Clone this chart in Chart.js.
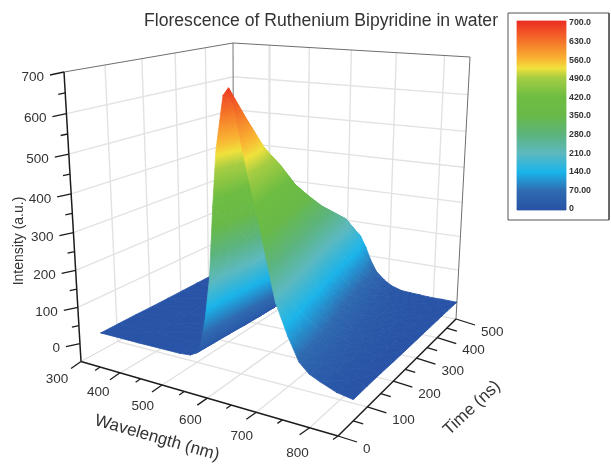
<!DOCTYPE html>
<html>
<head>
<meta charset="utf-8">
<title>Florescence of Ruthenium Bipyridine in water</title>
<script src="https://cdn.jsdelivr.net/npm/chart.js@4/dist/chart.umd.min.js"></script>
<style>
  html, body { margin: 0; padding: 0; background: #fff; }
  canvas { display: block; }
</style>
</head>
<body>
<canvas id="chart" width="611" height="464"></canvas>
<script>
// values
const wavelengths = [305, 400, 500, 525, 540, 550, 562, 573, 584, 594, 611, 622, 633, 645, 657, 671, 690, 707, 730, 751, 770, 790, 820, 850];
const times = [50, 100, 150, 200, 250, 300, 350, 400, 450, 500];
const intensityT50  = [4, 4, 5, 8, 18, 45, 120, 220, 400, 540, 668, 686, 640, 561, 490, 415, 300, 197, 120, 62, 38, 26, 10, 3];
const intensityT100 = [4, 4, 5, 7, 16, 40, 106, 194, 340, 465, 580, 600, 565, 495, 425, 352, 255, 168, 98, 50, 32, 22, 9, 4];
const intensityT150 = [4, 4, 5, 7, 14, 34, 87, 159, 280, 390, 495, 520, 485, 420, 358, 292, 209, 135, 80, 42, 27, 19, 8, 4];
const intensityT200 = [3, 4, 4, 6, 11, 29, 73, 133, 241, 335, 435, 462, 430, 370, 314, 248, 170, 109, 63, 34, 24, 16, 7, 3];
const intensityT250 = [3, 3, 4, 5, 9, 23, 58, 106, 191, 276, 367, 396, 367, 310, 256, 197, 130, 83, 47, 27, 20, 14, 6, 3];
const intensityT300 = [3, 3, 4, 5, 8, 20, 48, 88, 159, 234, 318, 347, 321, 269, 218, 164, 104, 65, 37, 21, 16, 11, 5, 3];
const intensityT350 = [3, 3, 3, 4, 7, 17, 40, 72, 131, 196, 273, 302, 279, 232, 185, 135, 82, 51, 28, 17, 14, 10, 5, 3];
const intensityT400 = [3, 3, 3, 4, 6, 14, 33, 60, 108, 166, 237, 265, 244, 201, 158, 112, 65, 39, 21, 13, 11, 8, 5, 3];
const intensityT450 = [2, 3, 3, 3, 5, 12, 27, 49, 88, 137, 201, 228, 210, 171, 132, 90, 50, 29, 15, 10, 8, 6, 4, 3];
const intensityT500 = [2, 2, 3, 3, 3, 8, 18, 34, 60, 97, 146, 168, 155, 125, 88, 55, 32, 18, 8, 6, 5, 3, 3, 2];
const intensityRows = [intensityT50, intensityT100, intensityT150, intensityT200, intensityT250,
                       intensityT300, intensityT350, intensityT400, intensityT450, intensityT500];

const wavelengthTicks = [300, 400, 500, 600, 700, 800];
const wavelengthMinor = [350, 450, 550, 650, 750, 850];
const timeTicks = [0, 100, 200, 300, 400, 500];
const timeMinor = [50, 150, 250, 350, 450];
const intensityTicks = [0, 100, 200, 300, 400, 500, 600, 700];
const intensityMinor = [50, 150, 250, 350, 450, 550, 650];
const legendLabels = ['700.0', '630.0', '560.0', '490.0', '420.0', '350.0', '280.0', '210.0', '140.0', '70.00', '0'];
const legendValues = [700, 630, 560, 490, 420, 350, 280, 210, 140, 70, 0];

const colorValues = [0, 70, 140, 210, 280, 350, 420, 490, 525, 560, 630, 700];
const colorHexes = ['#2852a6', '#2f6ab0', '#1ab4ea', '#5cb9c0', '#5cb47c', '#68b948', '#6ebd42', '#a6cd42', '#f0e13c', '#f9b432', '#f46e28', '#eb2d23'];

// corners of the plot box on the page, floor and top: [wl low t low, wl high t low, wl high t high, wl low t high]
const floorCorners = [[81, 361.5], [338, 436], [456, 319], [234, 278]];
const topCorners = [[64, 72], [339.5, 99], [470, 57], [233, 43]];

function homography(q) {
  const [p0, p1, p2, p3] = q;
  const sx = p0[0] - p1[0] + p2[0] - p3[0], sy = p0[1] - p1[1] + p2[1] - p3[1];
  const dx1 = p1[0] - p2[0], dy1 = p1[1] - p2[1], dx2 = p3[0] - p2[0], dy2 = p3[1] - p2[1];
  const den = dx1 * dy2 - dx2 * dy1;
  const g = (sx * dy2 - sy * dx2) / den, h = (dx1 * sy - dy1 * sx) / den;
  const a = p1[0] - p0[0] + g * p1[0], b = p3[0] - p0[0] + h * p3[0];
  const d = p1[1] - p0[1] + g * p1[1], e = p3[1] - p0[1] + h * p3[1];
  return (u, v) => {
    const w = g * u + h * v + 1;
    return [(a * u + b * v + p0[0]) / w, (d * u + e * v + p0[1]) / w];
  };
}
const floorAt = homography(floorCorners);
const topAt = homography(topCorners);

// 3D axes to page position (z axis runs from -50 to 700)
function project(wl, t, z) {
  const u = (wl - 300) / 550, v = t / 500, s = (z + 50) / 750;
  const f = s / (1 + 0.09 * (1 - s));
  const b = floorAt(u, v), a = topAt(u, v);
  return { x: b[0] + (a[0] - b[0]) * f, y: b[1] + (a[1] - b[1]) * f };
}

function colorGradient(ctx, a, b) {
  const grad = ctx.createLinearGradient(a.x, a.y, b.x, b.y);
  colorValues.forEach((val, i) => grad.addColorStop(val / 700, colorHexes[i]));
  return grad;
}

const datasets = [];
function addLine(points, color, width) {
  datasets.push({ data: points, borderColor: color, borderWidth: width, pointRadius: 0, fill: false, tension: 0 });
}
function addPolygon(points, levels) {
  datasets.push({ data: points, levels: levels, showLine: false, pointRadius: 0, fill: false });
}

// wall and floor grid
const gridColor = '#e2e2e2';
intensityTicks.forEach(z => {
  if (z > 0 && z < 700) {
    addLine([project(300, 0, z), project(300, 500, z), project(850, 500, z)], gridColor, 1.4);
  }
});
timeTicks.slice(1, 5).forEach(t => {
  addLine([project(300, t, 700), project(300, t, -50), project(850, t, -50)], gridColor, 1.4);
});
wavelengthTicks.slice(1).forEach(wl => {
  addLine([project(wl, 500, 700), project(wl, 500, -50), project(wl, 0, -50)], gridColor, 1.4);
});
addLine([project(300, 500, 700), project(300, 500, -50)], '#8c8c8c', 1.2);
addLine([project(300, 0, -50), project(300, 500, -50), project(850, 500, -50)], '#d6d6d6', 1);
addLine([project(300, 0, 700), project(300, 500, 700), project(850, 500, 700), project(850, 500, -50)], '#6e6e6e', 1);

// surface, from the far side to the viewer's corner
for (let j = times.length - 1; j > 0; j--) {
  for (let i = 0; i < wavelengths.length - 1; i++) {
    const corners = [[i, j], [i + 1, j], [i + 1, j - 1], [i, j - 1]];
    const p = corners.map(c => project(wavelengths[c[0]], times[c[1]], intensityRows[c[1]][c[0]]));
    const z = corners.map(c => intensityRows[c[1]][c[0]]);
    addPolygon([p[0], p[1], p[3]], [z[0], z[1], z[3]]);
    addPolygon([p[1], p[2], p[3]], [z[1], z[2], z[3]]);
  }
}

// axes and ticks
const axisColor = '#1c1c1c';
function tick(base, dx, dy) {
  addLine([base, { x: base.x + dx, y: base.y + dy }], axisColor, 1.3);
}
addLine([project(300, 0, 700), project(300, 0, -50)], axisColor, 1.5);
addLine([project(300, 0, -50), project(850, 0, -50)], axisColor, 1.5);
addLine([project(850, 0, -50), project(850, 500, -50)], axisColor, 1.5);
intensityTicks.forEach(z => tick(project(300, 0, z), -14, 3));
intensityMinor.forEach(z => tick(project(300, 0, z), -7, 1.5));
wavelengthTicks.forEach(wl => tick(project(wl, 0, -50), -10, 7));
wavelengthMinor.forEach(wl => tick(project(wl, 0, -50), -5, 3.5));
timeTicks.forEach(t => tick(project(850, t, -50), 19, 6));
timeMinor.forEach(t => tick(project(850, t, -50), 10, 3));

// colour key
const legendY = v => 210 - v * 189 / 700;
addLine([{ x: 508, y: 13 }, { x: 609, y: 13 }, { x: 609, y: 220 }, { x: 508, y: 220 }, { x: 508, y: 13 }], '#555555', 1);
addPolygon([{ x: 517, y: legendY(700) }, { x: 566, y: legendY(700) }, { x: 566, y: legendY(0) }, { x: 517, y: legendY(0) }], [700, 700, 0, 0]);

// first dataset paints last in Chart.js, so order by paint sequence
datasets.forEach((d, i) => { d.order = -i; });

const surfacePlugin = {
  id: 'surfacePolygons',
  beforeDatasetDraw(chart, args) {
    const ds = chart.data.datasets[args.index];
    if (!ds.levels) return;
    const ctx = chart.ctx, pts = args.meta.data;
    const [p1, p2, p3] = pts;
    const [z1, z2, z3] = ds.levels;
    const det = (p2.x - p1.x) * (p3.y - p1.y) - (p3.x - p1.x) * (p2.y - p1.y);
    let a = 0, b = 0;
    if (Math.abs(det) > 1e-3) {
      a = ((z2 - z1) * (p3.y - p1.y) - (z3 - z1) * (p2.y - p1.y)) / det;
      b = ((z3 - z1) * (p2.x - p1.x) - (z2 - z1) * (p3.x - p1.x)) / det;
    }
    const g2 = a * a + b * b;
    // flat piece: stretch the gradient so that it reads as one colour
    if (g2 < 1e-6) { a = 0; b = 1e-3; }
    const g = a * a + b * b;
    const paint = colorGradient(ctx,
      { x: p1.x - z1 * a / g, y: p1.y - z1 * b / g },
      { x: p1.x + (700 - z1) * a / g, y: p1.y + (700 - z1) * b / g });
    ctx.save();
    ctx.beginPath();
    pts.forEach((p, i) => (i ? ctx.lineTo(p.x, p.y) : ctx.moveTo(p.x, p.y)));
    ctx.closePath();
    ctx.fillStyle = paint;
    ctx.strokeStyle = paint;
    ctx.lineWidth = 0.8;
    ctx.lineJoin = 'round';
    ctx.fill();
    ctx.stroke();
    ctx.restore();
  }
};

const textPlugin = {
  id: 'axisText',
  afterDraw(chart) {
    const ctx = chart.ctx, sx = chart.scales.x, sy = chart.scales.y;
    const put = (str, x, y, font, align, angle) => {
      ctx.save();
      ctx.translate(sx.getPixelForValue(x), sy.getPixelForValue(y));
      if (angle) ctx.rotate(angle * Math.PI / 180);
      ctx.font = font;
      ctx.textAlign = align;
      ctx.textBaseline = 'middle';
      ctx.fillStyle = '#333333';
      ctx.fillText(str, 0, 0);
      ctx.restore();
    };
    const tickFont = '13.5px "Liberation Sans"';
    intensityTicks.forEach(z => {
      const p = project(300, 0, z);
      put(String(z), p.x - 20, p.y + 5, tickFont, 'right');
    });
    wavelengthTicks.forEach(wl => {
      const p = project(wl, 0, -50), u = (wl - 300) / 550;
      put(String(wl), p.x - 24 + 13 * u, p.y + 18 + 8 * u, tickFont, 'center');
    });
    timeTicks.forEach(t => {
      const p = project(850, t, -50);
      put(String(t), p.x + 25, p.y + 13, tickFont, 'left');
    });
    put('Florescence of Ruthenium Bipyridine in water', 321, 21, '17.6px "Liberation Sans"', 'center');
    put('Wavelength (nm)', 157, 438, '17px "Liberation Sans"', 'center', 16);
    put('Time (ns)', 472, 408, '17px "Liberation Sans"', 'center', -43);
    put('Intensity (a.u.)', 19, 241, '14px "Liberation Sans"', 'center', -90);
    legendValues.forEach((v, i) => {
      put(legendLabels[i], 569, 209 - v * 186 / 700, 'bold 8.8px "Liberation Sans"', 'left');
    });
  }
};

new Chart(document.getElementById('chart'), {
  type: 'line',
  data: { datasets: datasets },
  plugins: [surfacePlugin, textPlugin],
  options: {
    responsive: false,
    animation: false,
    layout: { padding: 0 },
    scales: {
      x: { type: 'linear', min: 0, max: 611, display: false },
      y: { type: 'linear', min: 0, max: 464, reverse: true, display: false }
    },
    plugins: { legend: { display: false }, title: { display: false }, tooltip: { enabled: false } }
  }
});
</script>
</body>
</html>
